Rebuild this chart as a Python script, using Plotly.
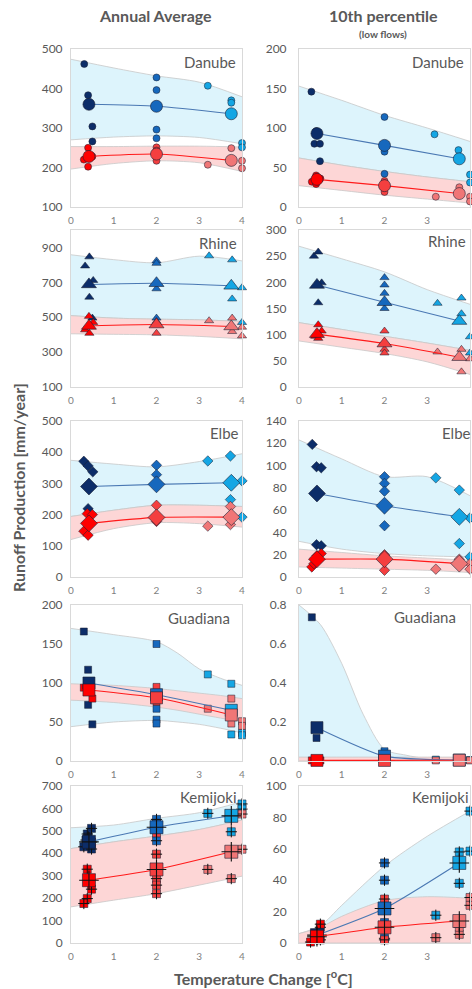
import plotly.graph_objects as go

W, H = 472, 989

# ---------------- data ----------------
MEAN_X = [0.42, 2.0, 3.75]
X_TICKS = [0, 1, 2, 3, 4]
PANEL_NAMES = ["Danube", "Rhine", "Elbe", "Guadiana", "Kemijoki"]
COLUMN_TITLES = ["Annual Average", "10th percentile"]

# Danube - annual average
DANUBE_AVG_BLUE_PTS = [(0.31, 462), (0.4, 383), (0.5, 304), (0.5, 266), (2, 428), (2, 396), (2, 296), (2, 274),
                       (3.2, 407), (3.75, 370), (3.75, 364), (4, 262), (4, 251)]
DANUBE_AVG_RED_PTS = [(0.3, 220), (0.4, 250), (0.4, 202), (0.5, 228), (2, 251), (2, 243), (2, 217),
                      (3.2, 207), (3.75, 249), (4, 217), (4, 198)]
DANUBE_AVG_BLUE_MEAN = [360, 355, 336]
DANUBE_AVG_RED_MEAN = [228, 234, 218]
DANUBE_AVG_BAND_X = [0, 1, 2, 3, 4]
DANUBE_AVG_BLUE_LO = [270, 277, 280, 276, 260]
DANUBE_AVG_BLUE_HI = [474, 452, 432, 416, 379]
DANUBE_AVG_RED_LO = [196, 210, 217, 212, 190]
DANUBE_AVG_RED_HI = [253, 253, 254, 254, 252]

# Danube - 10th percentile
DANUBE_LOW_BLUE_PTS = [(0.29, 146), (0.36, 80), (0.49, 80), (0.49, 58), (0.4, 96), (2, 114), (2, 70), (2, 42),
                       (3.17, 92), (3.73, 72), (4, 41), (4, 31)]
DANUBE_LOW_RED_PTS = [(0.3, 32), (0.4, 40), (0.5, 36), (0.4, 29), (2, 33), (2, 30), (2, 19),
                      (3.2, 13), (3.75, 25), (4, 13), (4, 7)]
DANUBE_LOW_BLUE_MEAN = [93, 78, 61]
DANUBE_LOW_RED_MEAN = [35, 27, 17]
DANUBE_LOW_BAND_X = [0, 1, 2, 3, 4]
DANUBE_LOW_BLUE_LO = [62, 53, 45, 38, 32]
DANUBE_LOW_BLUE_HI = [153, 135, 116, 100, 83]
DANUBE_LOW_RED_LO = [27, 21, 15, 10, 5]
DANUBE_LOW_RED_HI = [62, 53, 45, 38, 32]

# Rhine - annual average
RHINE_AVG_BLUE_PTS = [(0.33, 794), (0.43, 846), (0.43, 615), (0.52, 711), (0.5, 495), (2, 823), (2, 809),
                      (2, 663), (2, 495), (3.23, 852), (3.77, 829), (3.77, 605), (4, 669), (4, 470)]
RHINE_AVG_RED_PTS = [(0.42, 505), (0.33, 428), (0.43, 408), (0.52, 470), (2, 476), (2, 408),
                     (3.23, 480), (3.77, 495), (3.77, 418), (4, 443), (4, 393)]
RHINE_AVG_BLUE_MEAN = [688, 695, 680]
RHINE_AVG_RED_MEAN = [450, 458, 447]
RHINE_AVG_BAND_X = [0, 1, 2, 3, 4]
RHINE_AVG_BLUE_LO = [509, 495, 489, 485, 476]
RHINE_AVG_BLUE_HI = [858, 830, 812, 850, 823]
RHINE_AVG_RED_LO = [405, 402, 399, 390, 376]
RHINE_AVG_RED_HI = [509, 495, 489, 485, 476]

# Rhine - 10th percentile
RHINE_LOW_BLUE_PTS = [(0.35, 250), (0.45, 258), (0.53, 199), (0.45, 161), (2, 209), (2, 195), (2, 179),
                      (2, 150), (3.24, 160), (3.8, 170), (3.8, 140), (4, 96), (4, 65)]
RHINE_LOW_RED_PTS = [(0.45, 119), (0.53, 107), (0.38, 97), (0.45, 93), (2, 107), (2, 72), (2, 65),
                     (3.24, 67), (3.8, 72), (3.8, 29), (4, 54)]
RHINE_LOW_BLUE_MEAN = [195, 162, 126]
RHINE_LOW_RED_MEAN = [101, 83, 57]
RHINE_LOW_BAND_X = [0, 1, 2, 3, 4]
RHINE_LOW_BLUE_LO = [123, 110, 97, 84, 70]
RHINE_LOW_BLUE_HI = [269, 245, 220, 186, 158]
RHINE_LOW_RED_LO = [88, 76, 64, 48, 24]
RHINE_LOW_RED_HI = [123, 110, 97, 84, 70]

# Elbe - annual average
ELBE_AVG_BLUE_PTS = [(0.3, 371), (0.4, 356), (0.51, 337), (0.4, 219), (2, 358), (2, 328),
                     (3.2, 372), (3.73, 388), (3.73, 248), (4, 308), (4, 192)]
ELBE_AVG_RED_PTS = [(0.38, 203), (0.5, 200), (0.3, 147), (0.4, 134), (2, 230), (2, 178),
                    (3.2, 163), (3.73, 226), (3.73, 168)]
ELBE_AVG_BLUE_MEAN = [290, 297, 302]
ELBE_AVG_RED_MEAN = [172, 191, 192]
ELBE_AVG_BAND_X = [0, 1, 2, 3, 4]
ELBE_AVG_BLUE_LO = [194, 214, 230, 230, 226]
ELBE_AVG_BLUE_HI = [374, 362, 353, 370, 395]
ELBE_AVG_RED_LO = [120, 155, 174, 171, 160]
ELBE_AVG_RED_HI = [194, 214, 230, 230, 226]

# Elbe - 10th percentile
ELBE_LOW_BLUE_PTS = [(0.31, 119), (0.41, 99), (0.52, 98), (0.41, 29), (0.52, 28), (2, 90), (2, 84), (2, 77),
                     (2, 46), (2, 19), (3.2, 89), (3.75, 78), (3.75, 30), (4, 53), (4, 18)]
ELBE_LOW_RED_PTS = [(0.3, 9), (0.42, 19), (0.52, 21), (0.35, 12), (2, 20), (2, 6),
                    (3.2, 7), (3.75, 16), (4, 12), (4, 7)]
ELBE_LOW_BLUE_MEAN = [75, 64, 54]
ELBE_LOW_RED_MEAN = [16, 16, 12]
ELBE_LOW_BAND_X = [0, 1, 2, 3, 4]
ELBE_LOW_BLUE_LO = [32, 25, 21, 19, 18]
ELBE_LOW_BLUE_HI = [123, 106, 90, 90, 73]
ELBE_LOW_RED_LO = [9, 8, 7, 6, 4]
ELBE_LOW_RED_HI = [25, 22, 19, 17, 15]

# Guadiana - annual average
GUADIANA_AVG_BLUE_PTS = [(0.3, 166), (0.4, 117), (0.4, 72), (0.5, 47), (2, 150), (2, 67), (2, 53), (2, 48),
                         (3.2, 111), (3.75, 99), (3.75, 34), (4, 36), (4, 33)]
GUADIANA_AVG_RED_PTS = [(0.3, 94), (0.4, 97), (0.5, 80), (2, 95), (2, 76), (3.2, 67), (3.75, 80), (3.75, 48),
                        (4, 51), (4, 45)]
GUADIANA_AVG_BLUE_MEAN = [100, 85, 65]
GUADIANA_AVG_RED_MEAN = [91, 81, 59]
GUADIANA_AVG_BAND_X = [0, 1, 2, 2.5, 3, 3.5, 4]
GUADIANA_AVG_BLUE_LO = [44, 50, 52, 50, 47, 42, 36]
GUADIANA_AVG_BLUE_HI = [170, 162, 153, 138, 118, 106, 97]
GUADIANA_AVG_RED_LO = [78, 75, 69, 65, 60, 55, 50]
GUADIANA_AVG_RED_HI = [99, 97, 93, 90, 87, 84, 80]

# Guadiana - 10th percentile
GUADIANA_LOW_BLUE_PTS = [(0.3, 0.737), (0.41, 0.118), (2, 0.05), (3.2, 0.007), (4, 0.005)]
GUADIANA_LOW_RED_PTS = [(0.3, 0.003), (0.5, 0.003), (2, 0.003), (3.2, 0.003), (4, 0.003)]
GUADIANA_LOW_BLUE_MEAN = [0.171, 0.025, 0.005]
GUADIANA_LOW_RED_MEAN = [0.003, 0.003, 0.004]
GUADIANA_LOW_BAND_X = [0, 0.5, 1, 1.5, 2, 2.5, 3, 4]
GUADIANA_LOW_BLUE_LO = [0, 0, 0, 0, 0, 0, 0, 0]
GUADIANA_LOW_BLUE_HI = [0.8, 0.7, 0.5, 0.24, 0.06, 0.03, 0.012, 0.005]
GUADIANA_LOW_RED_LO = [0, 0, 0, 0, 0, 0, 0, 0]
GUADIANA_LOW_RED_HI = [0.02, 0.02, 0.02, 0.02, 0.02, 0.02, 0.02, 0.02]

# Kemijoki - annual average
KEMIJOKI_AVG_BLUE_PTS = [(0.48, 511), (0.38, 486), (0.4, 474), (0.35, 459), (0.3, 429), (0.48, 419),
                         (2, 551), (2, 533), (2, 456), (3.2, 578), (3.75, 496), (4, 620), (4, 597)]
KEMIJOKI_AVG_RED_PTS = [(0.38, 329), (0.48, 240), (0.38, 198), (0.3, 176), (0.48, 450), (2, 491), (2, 396),
                        (2, 287), (2, 258), (2, 220), (3.2, 328), (3.75, 287), (4, 575), (4, 418)]
KEMIJOKI_AVG_BLUE_MEAN = [451, 516, 567]
KEMIJOKI_AVG_RED_MEAN = [280, 328, 407]
KEMIJOKI_AVG_BAND_X = [0, 1, 2, 3, 4]
KEMIJOKI_AVG_BLUE_LO = [421, 451, 477, 506, 548]
KEMIJOKI_AVG_BLUE_HI = [514, 526, 556, 581, 630]
KEMIJOKI_AVG_RED_LO = [161, 191, 220, 258, 298]
KEMIJOKI_AVG_RED_HI = [421, 451, 477, 506, 548]

# Kemijoki - 10th percentile
KEMIJOKI_LOW_BLUE_PTS = [(0.5, 10), (2, 51), (2, 40), (2, 13), (2, 3), (3.2, 17.7), (3.75, 58), (3.75, 38),
                         (4, 84), (4, 58.5)]
KEMIJOKI_LOW_RED_PTS = [(0.27, 0.6), (0.4, 6), (0.5, 12), (0.5, 2), (2, 28), (2, 2), (3.2, 3.4), (3.75, 5.5),
                        (3.75, 10), (4, 29), (4, 24)]
KEMIJOKI_LOW_BLUE_MEAN = [5, 22, 51]
KEMIJOKI_LOW_RED_MEAN = [4, 10, 14]
KEMIJOKI_LOW_BAND_X = [0, 0.5, 1, 2, 3, 4]
KEMIJOKI_LOW_BLUE_LO = [0, 0, 0, 0, 0, 0]
KEMIJOKI_LOW_BLUE_HI = [6, 11, 24, 49, 68, 84]
KEMIJOKI_LOW_RED_LO = [0, 0, 0, 0, 0, 0]
KEMIJOKI_LOW_RED_HI = [6, 10, 17, 27, 29.5, 28.5]

# axis ranges / ticks per row: (left, right)
Y_RANGES = [([100, 500], [0, 200]), ([100, 1000], [0, 300]), ([0, 500], [0, 140]),
            ([0, 200], [0, 0.8]), ([0, 700], [0, 100])]
Y_TICKS = [([100, 200, 300, 400, 500], [0, 50, 100, 150, 200]),
           ([100, 300, 500, 700, 900], [0, 50, 100, 150, 200, 250, 300]),
           ([0, 100, 200, 300, 400, 500], [0, 20, 40, 60, 80, 100, 120, 140]),
           ([0, 50, 100, 150, 200], [0, 0.2, 0.4, 0.6, 0.8]),
           ([0, 100, 200, 300, 400, 500, 600, 700], [0, 20, 40, 60, 80, 100])]

# ---------------- style ----------------
FONT = "Lato, 'Open Sans', sans-serif"
TXT = "#595959"
NAVY, MID, LIGHT = "#0c2d69", "#1668bd", "#14a6e4"
RED1, RED2, RED3 = "#ff0000", "#f43f3f", "#f07676"
BAND_BLUE, BAND_RED = "rgba(221,244,252,1)", "rgba(253,214,214,1)"
EDGE = "#c8c8c8"
SYMBOLS = ["circle", "triangle-up", "diamond", "square", "square"]
SMALL = [7, 8, 8, 7, 8]
BIG = [12, 13, 13, 12, 13]

ROW_PX = [(49, 207), (230, 387), (421, 577), (605, 761), (786, 943)]
COL_PX = [(71, 242), (299, 470)]

G = globals()
panels = []
for r, name in enumerate(PANEL_NAMES):
    for c, tag in enumerate(["AVG", "LOW"]):
        p = name.upper() + "_" + tag + "_"
        panels.append(dict(r=r, c=c, name=name,
                           bpts=G[p + "BLUE_PTS"], rpts=G[p + "RED_PTS"],
                           bmean=G[p + "BLUE_MEAN"], rmean=G[p + "RED_MEAN"],
                           bx=G[p + "BAND_X"], blo=G[p + "BLUE_LO"], bhi=G[p + "BLUE_HI"],
                           rlo=G[p + "RED_LO"], rhi=G[p + "RED_HI"]))


def bcol(x):
    return NAVY if x < 1 else (MID if x < 3 else LIGHT)


def rcol(x):
    return RED1 if x < 1 else (RED2 if x < 3 else RED3)


fig = go.Figure()
layout = {}
for p in panels:
    r, c = p["r"], p["c"]
    n = r * 2 + c + 1
    xa = "x" if n == 1 else f"x{n}"
    ya = "y" if n == 1 else f"y{n}"
    common = dict(xaxis=xa, yaxis=ya, showlegend=False, hoverinfo="skip")

    # bands
    for lo, hi, fc in [(p["blo"], p["bhi"], BAND_BLUE), (p["rlo"], p["rhi"], BAND_RED)]:
        fig.add_trace(go.Scatter(x=p["bx"], y=lo, mode="lines",
                                 line=dict(color=EDGE, width=0.8, shape="spline", smoothing=0.8), **common))
        fig.add_trace(go.Scatter(x=p["bx"], y=hi, mode="lines", fill="tonexty", fillcolor=fc,
                                 line=dict(color=EDGE, width=0.8, shape="spline", smoothing=0.8), **common))

    sym, s_small, s_big = SYMBOLS[r], SMALL[r], BIG[r]
    kemi = (r == 4)

    # small markers
    for pts, cf in [(p["bpts"], bcol), (p["rpts"], rcol)]:
        xs = [a for a, b in pts]
        ys = [b for a, b in pts]
        fig.add_trace(go.Scatter(x=xs, y=ys, mode="markers", cliponaxis=False,
                                 marker=dict(symbol=sym, size=s_small, color=[cf(v) for v in xs],
                                             line=dict(color="rgba(25,30,50,0.75)", width=0.7)), **common))
        if kemi:
            fig.add_trace(go.Scatter(x=xs, y=ys, mode="markers", cliponaxis=False,
                                     marker=dict(symbol="cross-thin", size=s_small,
                                                 line=dict(color="#111111", width=1.0)), **common))

    # mean lines with big markers
    for ys, cf, lc in [(p["bmean"], bcol, "#4a78b3"), (p["rmean"], rcol, "#ff1a1a")]:
        fig.add_trace(go.Scatter(x=MEAN_X, y=ys, mode="lines+markers", cliponaxis=False,
                                 line=dict(color=lc, width=1.1, shape="spline", smoothing=0.6),
                                 marker=dict(symbol=sym, size=s_big, color=[cf(v) for v in MEAN_X],
                                             line=dict(color="rgba(25,30,50,0.75)", width=0.8)), **common))
        if kemi:
            fig.add_trace(go.Scatter(x=MEAN_X, y=ys, mode="markers", cliponaxis=False,
                                     marker=dict(symbol="cross-thin", size=s_big + 1,
                                                 line=dict(color="#111111", width=1.1)), **common))

    x0, x1 = COL_PX[c]
    top, bot = ROW_PX[r]
    xkey = "xaxis" if n == 1 else f"xaxis{n}"
    ykey = "yaxis" if n == 1 else f"yaxis{n}"
    layout[xkey] = dict(domain=[x0 / W, x1 / W], anchor=ya, range=[0, 4], tickvals=X_TICKS,
                        showgrid=False, zeroline=False, showline=True, linecolor="#d9d9d9", linewidth=1,
                        mirror=True, ticks="", ticklabelstandoff=4,
                        tickfont=dict(family=FONT, size=10, color="#7f7f7f"), automargin=False)
    yr = Y_RANGES[r][c]
    yt = Y_TICKS[r][c]
    layout[ykey] = dict(domain=[1 - bot / H, 1 - top / H], anchor=xa, range=yr, tickvals=yt,
                        tickformat=".1f" if (r == 3 and c == 1) else "d",
                        showgrid=False, zeroline=False, showline=True, linecolor="#d9d9d9", linewidth=1,
                        mirror=True, ticks="", ticklabelstandoff=5 if c == 0 else 9,
                        tickfont=dict(family=FONT, size=12, color=TXT), automargin=False)

# annotations
LABEL_POS = {("Danube", 0): (210, 62), ("Danube", 1): (438, 62),
             ("Rhine", 0): (218, 243), ("Rhine", 1): (447, 241),
             ("Elbe", 0): (224, 433), ("Elbe", 1): (456, 433),
             ("Guadiana", 0): (199, 618), ("Guadiana", 1): (425, 617),
             ("Kemijoki", 0): (208, 797), ("Kemijoki", 1): (440, 797)}
ann = []
for (nm, c), (px, py) in LABEL_POS.items():
    ann.append(dict(text=nm, x=px / W, y=1 - py / H, xref="paper", yref="paper", showarrow=False,
                    xanchor="center", yanchor="middle", font=dict(family=FONT, size=15, color=TXT)))
ann.append(dict(text="<b>" + COLUMN_TITLES[0] + "</b>", x=155 / W, y=1 - 16 / H, xref="paper", yref="paper",
                showarrow=False, xanchor="center", yanchor="middle", font=dict(family=FONT, size=16, color=TXT)))
ann.append(dict(text="<b>" + COLUMN_TITLES[1] + "</b>", x=383 / W, y=1 - 16 / H, xref="paper", yref="paper",
                showarrow=False, xanchor="center", yanchor="middle", font=dict(family=FONT, size=16, color=TXT)))
ann.append(dict(text="<b>(low flows)</b>", x=383 / W, y=1 - 34 / H, xref="paper", yref="paper",
                showarrow=False, xanchor="center", yanchor="middle", font=dict(family=FONT, size=10, color=TXT)))
ann.append(dict(text="<b>Runoff Production [mm/year]</b>", x=18 / W, y=1 - 488 / H, xref="paper", yref="paper",
                showarrow=False, xanchor="center", yanchor="middle", textangle=-90,
                font=dict(family=FONT, size=16, color=TXT)))
ann.append(dict(text="<b>Temperature Change [<sup>o</sup>C]</b>", x=263 / W, y=1 - 977 / H, xref="paper",
                yref="paper", showarrow=False, xanchor="center", yanchor="middle",
                font=dict(family=FONT, size=16, color=TXT)))

fig.update_layout(width=W, height=H, margin=dict(l=0, r=0, t=0, b=0), template="none",
                  paper_bgcolor="white", plot_bgcolor="white", showlegend=False,
                  annotations=ann, **layout)
fig.write_html("out.html", config={"displayModeBar": False},
               post_script="document.body.style.margin='0';document.body.style.padding='0';"
                           "document.body.style.overflow='hidden';"
                           "document.documentElement.style.overflow='hidden';")
